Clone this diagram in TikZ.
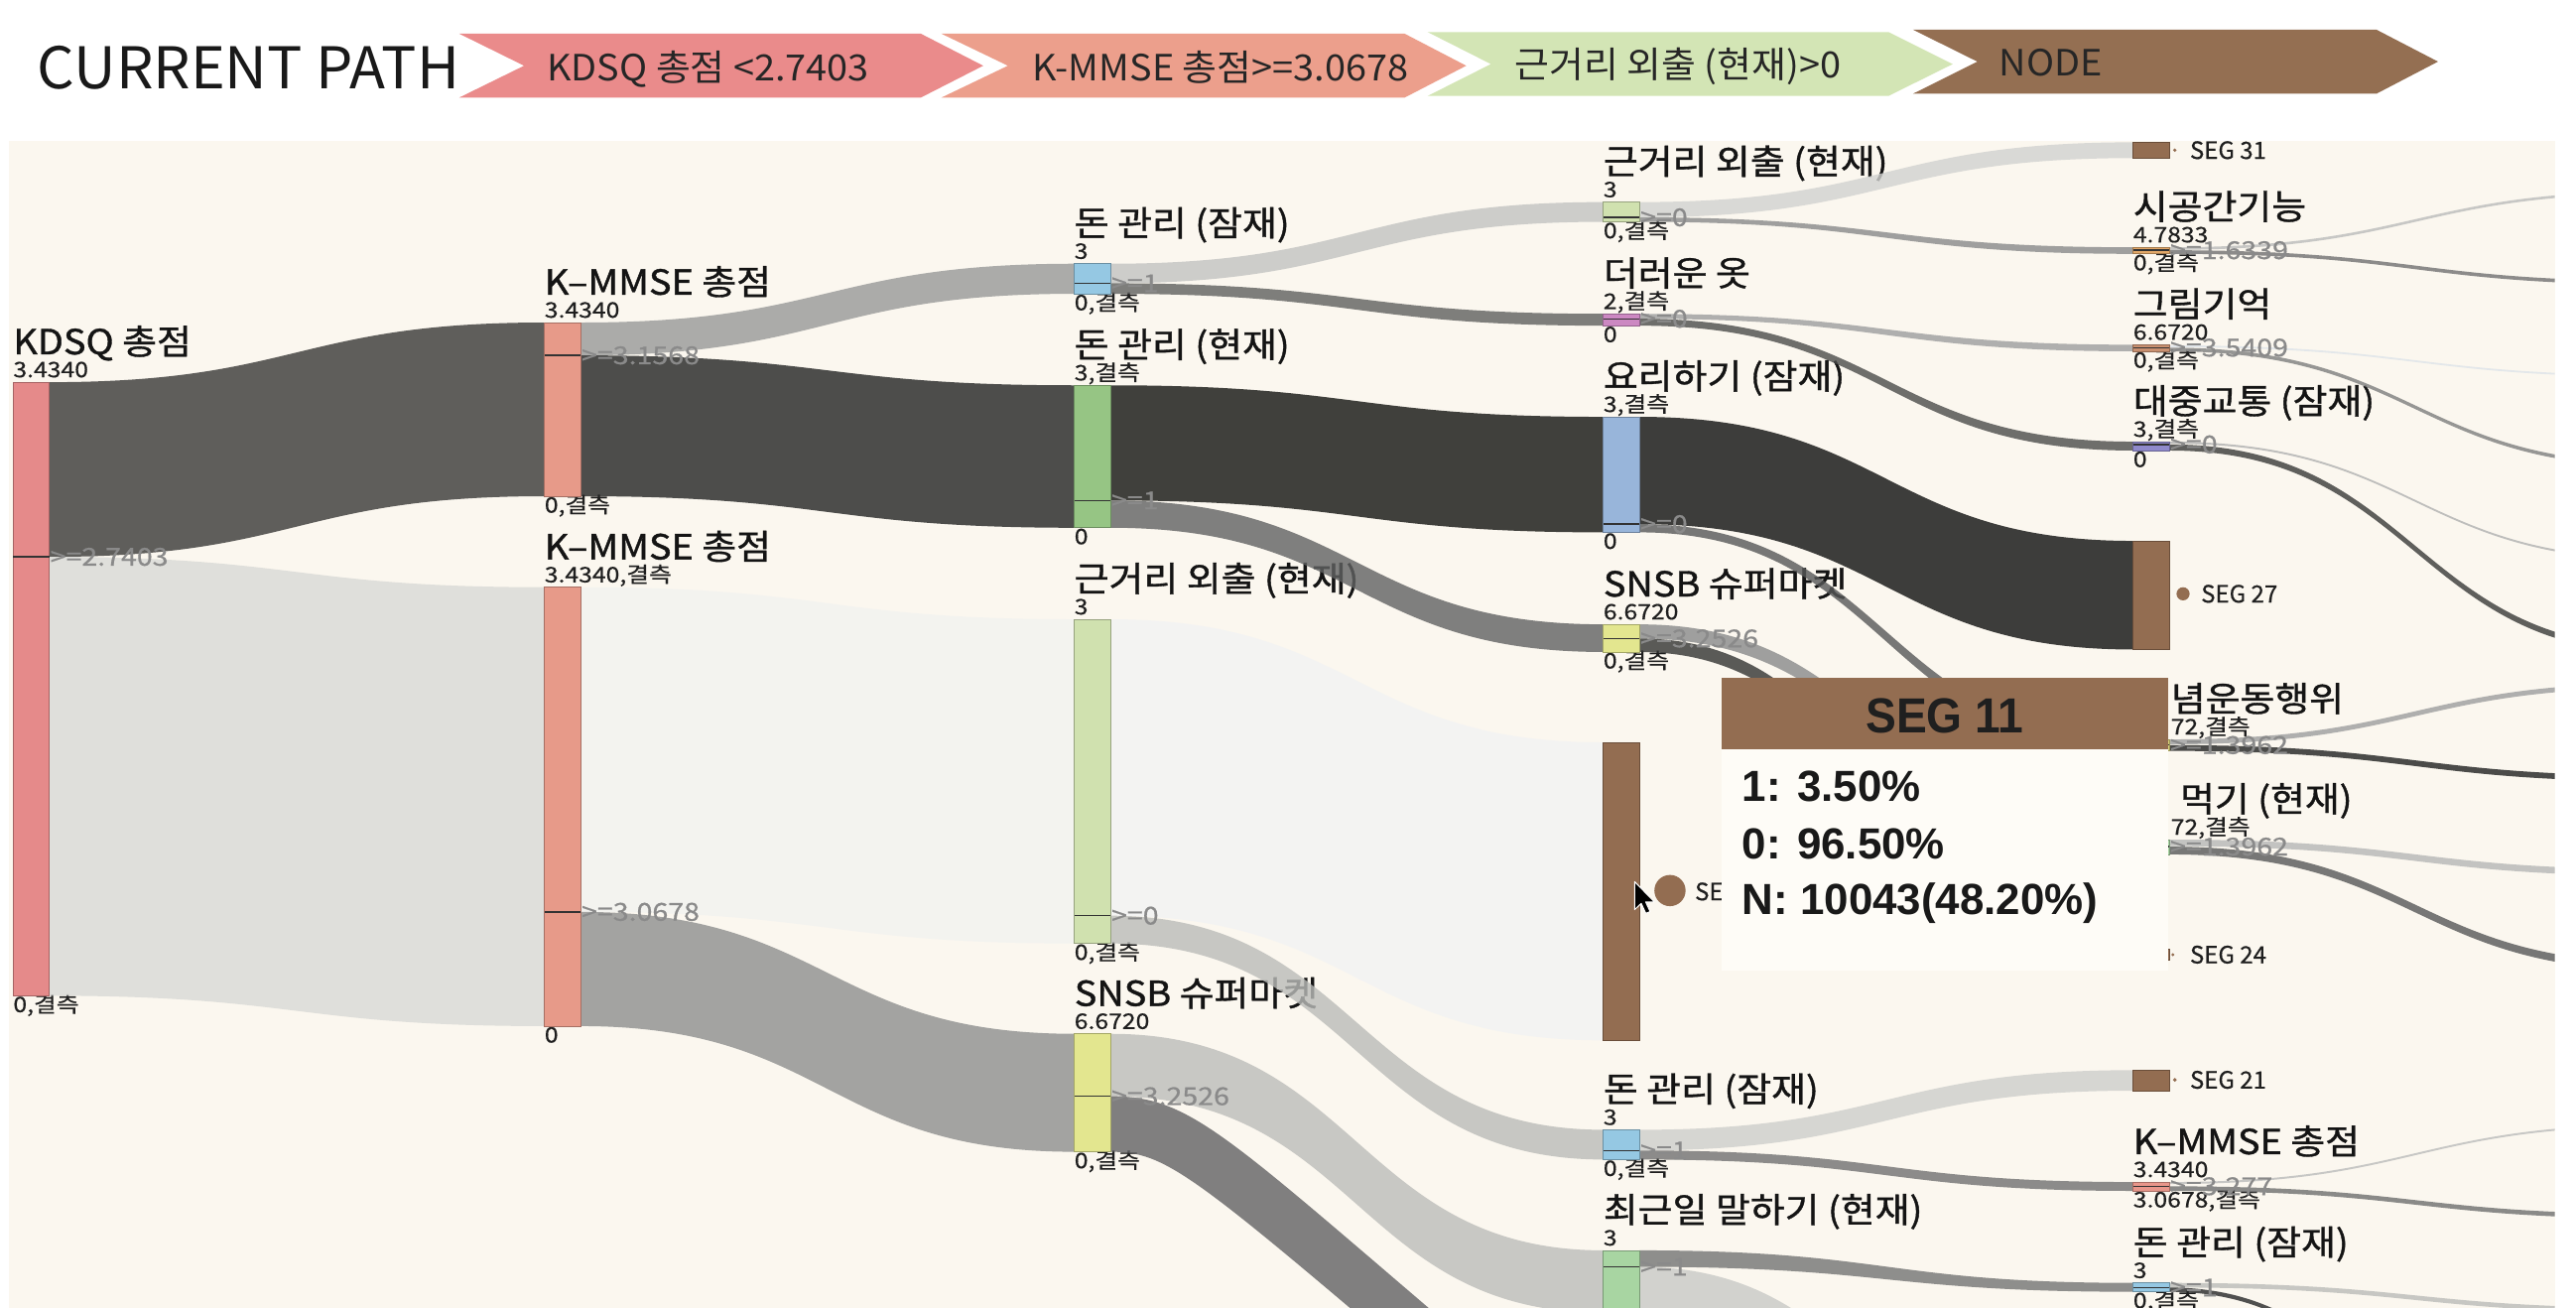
\documentclass[tikz,border=0pt]{standalone}
\usepackage{fontspec}
\setmainfont{Noto Sans CJK KR}
\newfontfamily\lblfont{Noto Sans CJK KR}[FakeBold=1.0]
\newfontfamily\smfont{Noto Sans CJK KR}[FakeBold=0.5]
\newfontfamily\tipfont{Liberation Sans}
\usetikzlibrary{calc}
\pgfdeclarelayer{back}
\pgfdeclarelayer{lab}
\pgfdeclarelayer{flw}
\pgfdeclarelayer{front}
\pgfsetlayers{back,lab,flw,main,front}

\definecolor{cream}{HTML}{FBF7EF}
\definecolor{tipbody}{HTML}{FEFCF7}
\definecolor{segbrown}{HTML}{936D51}
\definecolor{ckdsq}{HTML}{E58A8A}
\definecolor{ckmmse}{HTML}{E79A89}
\definecolor{cblue}{HTML}{95C8E3}
\definecolor{cgreen}{HTML}{96C584}
\definecolor{cpale}{HTML}{D0E1AF}
\definecolor{cyel}{HTML}{E3E68F}
\definecolor{cpink}{HTML}{CC88C2}
\definecolor{cblue2}{HTML}{98B5DA}
\definecolor{cgreen2}{HTML}{A8D5A2}
\definecolor{ctan}{HTML}{E3A868}
\definecolor{cbrn2}{HTML}{C99070}
\definecolor{cpurp}{HTML}{8F89CB}
\definecolor{cyel2}{HTML}{D9D37C}
\definecolor{csalm}{HTML}{E8968A}
\definecolor{chv1}{HTML}{EA8B8B}
\definecolor{chv2}{HTML}{EC9F8C}
\definecolor{chv3}{HTML}{D3E5B5}
\definecolor{chv4}{HTML}{946F52}
% flow colours (drawn at 80% opacity)
\definecolor{l1}{HTML}{383837}
\definecolor{l2}{HTML}{D8D9D6}
\definecolor{l3}{HTML}{979898}
\definecolor{l4}{HTML}{222323}
\definecolor{l5}{HTML}{F1F2F0}
\definecolor{l6}{HTML}{8D8E8E}
\definecolor{l7}{HTML}{C2C3C1}
\definecolor{l8}{HTML}{5F605F}
\definecolor{l9}{HTML}{121310}
\definecolor{l10}{HTML}{616262}
\definecolor{l11}{HTML}{F2F3F3}
\definecolor{l12}{HTML}{BBBCB9}
\definecolor{l13}{HTML}{BCBDBA}
\definecolor{l14}{HTML}{626264}
\definecolor{l15}{HTML}{D1D2D0}
\definecolor{l16}{HTML}{898A8A}
\definecolor{l17}{HTML}{9D9E9E}
\definecolor{l18}{HTML}{4B4C4B}
\definecolor{l19}{HTML}{0E0F0E}
\definecolor{l20}{HTML}{575858}
\definecolor{l21}{HTML}{898A8A}
\definecolor{l22}{HTML}{323332}
\definecolor{l23}{HTML}{CDCECB}
\definecolor{l24}{HTML}{717171}
\definecolor{l25}{HTML}{737474}
\definecolor{l26}{HTML}{C8C9C6}
\definecolor{l27}{HTML}{BBBCBB}
\definecolor{l28}{HTML}{717171}
\definecolor{l29}{HTML}{DEE4E9}
\definecolor{l30}{HTML}{7D7E7E}
\definecolor{l31}{HTML}{AFB0B0}
\definecolor{l32}{HTML}{383938}
\definecolor{l33}{HTML}{9D9E9E}
\definecolor{l34}{HTML}{1F2020}
\definecolor{l35}{HTML}{B5B6B6}
\definecolor{l36}{HTML}{575858}
\definecolor{l37}{HTML}{BBBCBB}
\definecolor{l38}{HTML}{6E6F6F}
\definecolor{l39}{HTML}{BBBCB9}
\definecolor{l40}{HTML}{262727}

\tikzset{
  barst/.style={rectangle, inner sep=0pt, outer sep=0pt, minimum width=22pt, line width=0.5pt},
  ttl/.style={inner sep=0pt, outer sep=0pt, font=\lblfont\fontsize{21}{22}\selectfont, text=black!92},
  val/.style={inner sep=0pt, outer sep=0pt, font=\smfont\fontsize{13}{14}\selectfont, text=black!88},
  thr/.style={inner sep=0pt, outer sep=0pt, font=\smfont\fontsize{15}{16}\selectfont, text=black!46},
  seglab/.style={inner sep=0pt, outer sep=0pt, font=\smfont\fontsize{14.5}{15}\selectfont, text=black!88},
  segdot/.style={circle, fill=segbrown, inner sep=0pt, outer sep=0pt},
  flowst/.style={fill opacity=0.8},
  splitln/.style={draw=black!80, line width=0.8pt},
  chvtxt/.style={inner sep=0pt, outer sep=0pt, font=\fontsize{22}{23}\selectfont, text=black!85},
  tiptitle/.style={inner sep=0pt, font=\tipfont\bfseries\fontsize{30}{31}\selectfont, text=black!88},
  tipline/.style={inner sep=0pt, font=\tipfont\bfseries\fontsize{26.5}{27}\selectfont, text=black!90},
}

\newcommand\sm[1]{\scalebox{1.15}[1]{#1}}
\newcommand\wideT[1]{\scalebox{1.09}[1]{#1}}
\newcommand\chvT[1]{\scalebox{1.04}[1]{#1}}
\newcommand\sbar[5]{\node[barst, fill=#5, draw=#5!72!black, minimum height={#4pt-#3pt}, anchor=north west] (#1) at (#2,#3) {};}
\newcommand\tlab[3]{\begin{pgfonlayer}{lab}
  \node[ttl, anchor=base west] (#1-ti) at ([yshift=17pt]#1.north west) {\wideT{#2}};
  \node[val, anchor=base west] (#1-va) at ([yshift=3pt]#1.north west) {\sm{#3}};
  \end{pgfonlayer}}
\newcommand\blab[2]{\begin{pgfonlayer}{lab}
  \node[val, anchor=base west] (#1-bo) at ([yshift=-10pt]#1.south west) {\sm{#2}};
  \end{pgfonlayer}}
\newcommand\spl[3]{\draw[splitln] (#1.west |- 0,#2) -- (#1.east |- 0,#2);
  \node[thr, anchor=west, xshift=0.5pt] (#1-th) at (#1.east |- 0,#2) {\sm{#3}};}
\newcommand\lnk[7]{%
  \path (#1 |- 0,#2) coordinate (qa) (#1 |- 0,#3) coordinate (qb)
        (#4 |- 0,#5) coordinate (qc) (#4 |- 0,#6) coordinate (qd);
  \path ($(qa)!0.5!(qc)$) coordinate (qm);
  \fill[flowst, fill=#7] (qa) .. controls (qm |- qa) and (qm |- qc) .. (qc) -- (qd)
        .. controls (qm |- qd) and (qm |- qb) .. (qb) -- cycle;}

\begin{document}
\begin{tikzpicture}[x=1pt, y=-1pt]
\useasboundingbox (0,0) rectangle (1568,796);
\begin{pgfonlayer}{back}
  \fill[white] (0,0) rectangle (1568,796);
  \fill[cream] (5.5,86) rectangle (1555,796);
\end{pgfonlayer}

% ---------- header: current path ----------
\node[inner sep=0pt, anchor=base west, font=\fontsize{35}{36}\selectfont, text=black!90] (cpath) at (22.5,54) {\scalebox{1.02}[1]{CURRENT PATH}};
\fill[chv1] (279.5,20.5) -- (560.5,20.5) -- (598.5,40) -- (560.5,59.4) -- (279.5,59.4) -- (319,40) -- cycle;
\fill[chv2] (573,20.5) -- (855,20.5) -- (892.5,40) -- (855,59.4) -- (573,59.4) -- (613.5,40) -- cycle;
\fill[chv3] (869,19.5) -- (1149.5,19.5) -- (1188.6,39) -- (1149.5,58.4) -- (869,58.4) -- (907.5,39) -- cycle;
\fill[chv4] (1164.5,18.1) -- (1446.6,18.1) -- (1484,37.5) -- (1446.6,57) -- (1164.5,57) -- (1203.6,37.5) -- cycle;
\node[chvtxt, anchor=base west] (pth1) at (333,49) {\chvT{KDSQ 총점 <2.7403}};
\node[chvtxt, anchor=base west] (pth2) at (628.5,49) {\chvT{K-MMSE 총점>=3.0678}};
\node[chvtxt, anchor=base west] (pth3) at (922,47.5) {\chvT{근거리 외출 (현재)>0}};
\node[chvtxt, anchor=base west] (pth4) at (1217,45.9) {\chvT{NODE}};

% ---------- bars ----------
\sbar{A}{8.1}{232.6}{606}{ckdsq}\tlab{A}{KDSQ 총점}{3.4340}\blab{A}{0,결측}\spl{A}{338.9}{>=2.7403}
\sbar{B1}{331.5}{196.3}{302}{ckmmse}\tlab{B1}{K–MMSE 총점}{3.4340}\blab{B1}{0,결측}\spl{B1}{216.3}{>=3.1568}
\sbar{B2}{331.5}{357.4}{624.5}{ckmmse}\tlab{B2}{K–MMSE 총점}{3.4340,결측}\blab{B2}{0}\spl{B2}{555}{>=3.0678}
\sbar{C1}{654}{160.5}{178.8}{cblue}\tlab{C1}{돈 관리 (잠재)}{3}\blab{C1}{0,결측}\spl{C1}{172.4}{>=1}
\sbar{C2}{654}{234.5}{321.2}{cgreen}\tlab{C2}{돈 관리 (현재)}{3,결측}\blab{C2}{0}\spl{C2}{304.6}{>=1}
\sbar{C3}{654}{376.9}{574.2}{cpale}\tlab{C3}{근거리 외출 (현재)}{3}\blab{C3}{0,결측}\spl{C3}{557.3}{>=0}
\sbar{C4}{654}{629.2}{701}{cyel}\tlab{C4}{SNSB 슈퍼마켓}{6.6720}\blab{C4}{0,결측}\spl{C4}{667.2}{>=3.2526}
\sbar{D1}{976}{123}{135}{cpale}\tlab{D1}{근거리 외출 (현재)}{3}\blab{D1}{0,결측}\spl{D1}{132.3}{>=0}
\sbar{D2}{976}{191}{198.2}{cpink}\tlab{D2}{더러운 옷}{2,결측}\blab{D2}{0}\spl{D2}{194}{>=0}
\sbar{D3}{976}{253.7}{324}{cblue2}\tlab{D3}{요리하기 (잠재)}{3,결측}\blab{D3}{0}\spl{D3}{319}{>=0}
\sbar{D4}{976}{380}{396.8}{cyel}\tlab{D4}{SNSB 슈퍼마켓}{6.6720}\blab{D4}{0,결측}\spl{D4}{388.6}{>=3.2526}
\sbar{D5}{976}{451.8}{633.2}{segbrown}
\sbar{D6}{976}{687.6}{705.7}{cblue}\tlab{D6}{돈 관리 (잠재)}{3}\blab{D6}{0,결측}\spl{D6}{700.2}{>=1}
\sbar{D7}{976}{761}{800}{cgreen2}\tlab{D7}{최근일 말하기 (현재)}{3}\spl{D7}{771}{>=1}
\sbar{E1}{1298.5}{86.6}{96.2}{segbrown}
\sbar{E2}{1298.5}{150.5}{154.5}{ctan}\tlab{E2}{시공간기능}{4.7833}\blab{E2}{0,결측}\spl{E2}{152.3}{>=1.6339}
\sbar{E3}{1298.5}{209.8}{213.8}{cbrn2}\tlab{E3}{그림기억}{6.6720}\blab{E3}{0,결측}\spl{E3}{211.6}{>=3.5409}
\sbar{E4}{1298.5}{268.8}{274.2}{cpurp}\tlab{E4}{대중교통 (잠재)}{3,결측}\blab{E4}{0}\spl{E4}{270.5}{>=0}
\sbar{E5}{1298.5}{329.2}{395.3}{segbrown}
\sbar{E6}{1298.5}{450}{457}{cyel2}\spl{E6}{453.5}{>=1.3962}
\sbar{E7}{1298.5}{511}{520}{cgreen2}\spl{E7}{515.3}{>=1.3962}
\sbar{E8}{1298.5}{577.5}{584.5}{segbrown}
\sbar{E9}{1298.5}{651.3}{663.8}{segbrown}
\sbar{E10}{1298.5}{719.4}{724.8}{csalm}\tlab{E10}{K–MMSE 총점}{3.4340}\blab{E10}{3.0678,결측}\spl{E10}{722}{>=3.277}
\sbar{E11}{1298.5}{780.8}{786.2}{cblue}\tlab{E11}{돈 관리 (잠재)}{3}\blab{E11}{0,결측}\spl{E11}{783.6}{>=1}

% partly hidden labels (covered by the tooltip)
\begin{pgfonlayer}{lab}
  \node[ttl, anchor=base west] (E6-ti) at (1321.4,433) {\wideT{념운동행위}};
  \node[val, anchor=base west] (E6-va) at (1321.4,447) {\sm{72,결측}};
  \node[ttl, anchor=base west] (E7-ti) at (1327,494) {\wideT{먹기 (현재)}};
  \node[val, anchor=base west] (E7-va) at (1321.4,508) {\sm{72,결측}};
\end{pgfonlayer}

% segment markers
\node[segdot, minimum size=2.2pt] (E1-d) at (1323.8,91.4) {};
\node[seglab, anchor=west] (E1-s) at (1333,91.4) {SEG 31};
\node[segdot, minimum size=8pt] (E5-d) at (1328.8,361.4) {};
\node[seglab, anchor=west] (E5-s) at (1339.8,361.4) {SEG 27};
\node[segdot, minimum size=19pt] (D5-d) at (1016.5,542) {};
\node[seglab, anchor=west] (D5-s) at (1031.7,542.6) {SEG 11};
\node[segdot, minimum size=2pt] (E8-d) at (1322.6,581) {};
\node[seglab, anchor=west] (E8-s) at (1333,581) {SEG 24};
\node[segdot, minimum size=2.4pt] (E9-d) at (1323.8,657.2) {};
\node[seglab, anchor=west] (E9-s) at (1333,657.2) {SEG 21};

% ---------- flows ----------
\coordinate (o26) at (1298.5,920);
\coordinate (x5) at (1620,0);
\coordinate (o14a) at (900,822);
\coordinate (o14b) at (880,845.6);
\begin{pgfonlayer}{flw}
\begin{scope}
\clip (5.5,86) rectangle (1555,796);
\lnk{A.east}{232.6}{338.9}{B1.west}{196.3}{302}{l1}
\lnk{A.east}{338.9}{606}{B2.west}{357.4}{624.5}{l2}
\lnk{B1.east}{196.3}{216.3}{C1.west}{160.5}{178.8}{l3}
\lnk{B1.east}{216.3}{302}{C2.west}{234.5}{321.2}{l4}
\lnk{B2.east}{357.4}{555}{C3.west}{376.9}{574.2}{l5}
\lnk{B2.east}{555}{624.5}{C4.west}{629.2}{701}{l6}
\lnk{C1.east}{160.5}{172.4}{D1.west}{123}{135}{l7}
\lnk{C1.east}{172.4}{178.8}{D2.west}{191}{198.2}{l8}
\lnk{C2.east}{234.5}{304.6}{D3.west}{253.7}{324}{l9}
\lnk{C2.east}{304.6}{321.2}{D4.west}{380}{396.8}{l10}
\lnk{C3.east}{376.9}{557.3}{D5.west}{451.8}{633.2}{l11}
\lnk{C3.east}{557.3}{574.2}{D6.west}{687.6}{705.7}{l12}
\lnk{C4.east}{629.2}{667.2}{D7.west}{761}{799}{l13}
\fill[flowst, fill=l14] (C4.east |- 0,667.2) .. controls (725,667.2) and (745,690) .. (o14a)
   -- (o14b) .. controls (725,713.6) and (710,701) .. (C4.east |- 0,701) -- cycle;
\lnk{D1.east}{123}{132.3}{E1.west}{86.6}{96.2}{l15}
\lnk{D1.east}{132.3}{135}{E2.west}{150.5}{154.5}{l16}
\lnk{D2.east}{191}{194}{E3.west}{209.8}{213.8}{l17}
\lnk{D2.east}{194}{198.2}{E4.west}{268.8}{274.2}{l18}
\lnk{D3.east}{253.7}{319}{E5.west}{329.2}{395.3}{l19}
\lnk{D3.east}{319}{324}{E6.west}{450}{457}{l20}
\lnk{D4.east}{380}{388.6}{E7.west}{511}{520}{l21}
\lnk{D4.east}{388.6}{396.8}{E8.west}{577.5}{584.5}{l22}
\lnk{D6.east}{687.6}{700.2}{E9.west}{651.3}{663.8}{l23}
\lnk{D6.east}{700.2}{705.7}{E10.west}{719.4}{724.8}{l24}
\lnk{D7.east}{761}{771}{E11.west}{780.8}{786.2}{l25}
\lnk{D7.east}{771}{800}{o26}{920}{949}{l26}
\lnk{E2.east}{150.5}{152.1}{x5}{116.3}{117.9}{l27}
\lnk{E2.east}{152.3}{154.5}{x5}{171}{173.2}{l28}
\lnk{E3.east}{210.2}{211.3}{x5}{228.3}{229.4}{l29}
\lnk{E3.east}{211.6}{213.8}{x5}{282}{284.2}{l30}
\lnk{E4.east}{268.8}{270}{x5}{339.8}{341}{l31}
\lnk{E4.east}{270.5}{274.2}{x5}{394}{397.7}{l32}
\lnk{E6.east}{450}{453}{x5}{415.7}{418.7}{l33}
\lnk{E6.east}{453.5}{457}{x5}{472}{475.5}{l34}
\lnk{E7.east}{511}{515}{x5}{529}{533}{l35}
\lnk{E7.east}{515.3}{520}{x5}{586}{590.7}{l36}
\lnk{E10.east}{719.4}{720.6}{x5}{684.3}{685.5}{l37}
\lnk{E10.east}{722}{724.8}{x5}{738.8}{741.6}{l38}
\lnk{E11.east}{780.8}{783.6}{x5}{796}{798.8}{l39}
\lnk{E11.east}{783.6}{786.2}{x5}{960}{962.6}{l40}
\end{scope}
\end{pgfonlayer}

% ---------- tooltip and cursor ----------
\begin{pgfonlayer}{front}
  \node[anchor=north west, fill=tipbody, minimum width=271.5pt, minimum height=178.3pt, inner sep=0pt, outer sep=0pt] (tip) at (1048,412.7) {};
  \node[anchor=north west, fill=segbrown, minimum width=271.5pt, minimum height=43.3pt, inner sep=0pt, outer sep=0pt] (tiphead) at (1048,412.7) {};
  \node[tiptitle, anchor=base] (tiptxt) at (1183.75,445.9) {\scalebox{0.93}[1]{SEG 11}};
  \node[tipline, anchor=base west] (tip1) at (1060.4,488) {1: 3.50\%};
  \node[tipline, anchor=base west] (tip2) at (1060.4,522.5) {0: 96.50\%};
  \node[tipline, anchor=base west] (tip3) at (1060.4,556.6) {N: 10043(48.20\%)};
  \fill[black, draw=white, line width=0.6pt, line join=round] (995,536.6) -- ++(0,17) -- ++(4,-3.8) -- ++(2.8,6.1) -- ++(2.6,-1.1) -- ++(-2.7,-5.9) -- ++(5.3,0) -- cycle;
\end{pgfonlayer}
\end{tikzpicture}
\end{document}
